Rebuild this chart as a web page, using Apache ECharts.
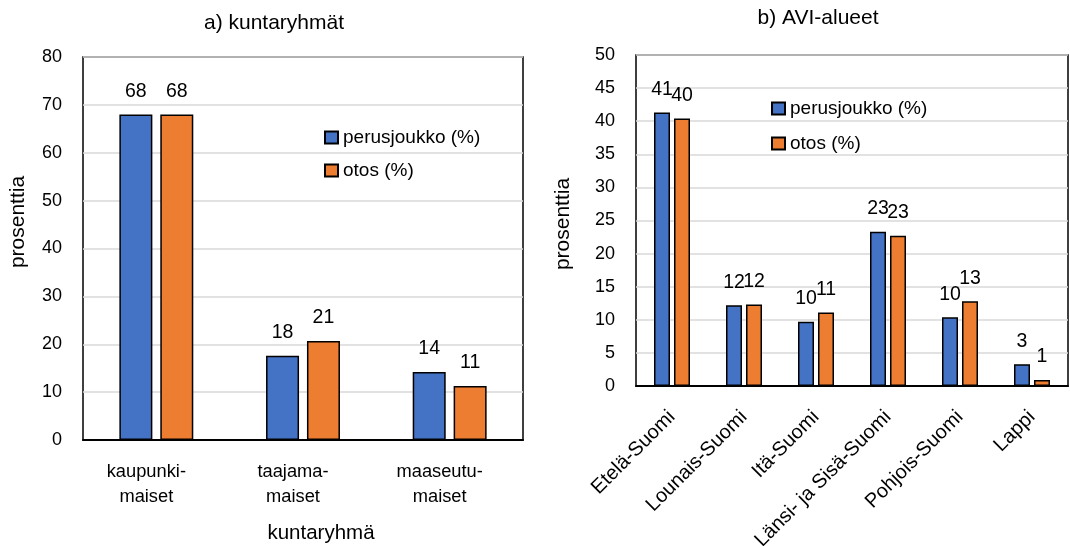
<!DOCTYPE html>
<html>
<head>
<meta charset="utf-8">
<script src="https://cdn.jsdelivr.net/npm/echarts@6/dist/echarts.min.js"></script>
<style>
  html, body { margin: 0; padding: 0; background: #fff; }
  #chart { width: 1070px; height: 546px; }
</style>
</head>
<body>
<div id="chart"></div>
<script>
// a) municipality groups
const catsA = ['kaupunki-\nmaiset', 'taajama-\nmaiset', 'maaseutu-\nmaiset'];
const perusA = [68.0, 17.6, 14.2];
const otosA = [68.0, 20.7, 11.3];

// b) AVI regions
const catsB = ['Etelä-Suomi', 'Lounais-Suomi', 'Itä-Suomi', 'Länsi- ja Sisä-Suomi', 'Pohjois-Suomi', 'Lappi'];
const perusB = [41.3, 12.2, 9.7, 23.3, 10.4, 3.3];
const otosB = [40.4, 12.3, 11.1, 22.7, 12.8, 0.9];

const seriesNames = ['perusjoukko (%)', 'otos (%)'];
const blue = '#4472C4';
const orange = '#ED7D31';
const FONT = "'Liberation Sans', Arial, sans-serif";

const txt = { fontFamily: FONT, color: '#000' };

function barSeries(name, data, color, axisIdx, barWidth, barGap) {
  return {
    type: 'bar',
    name: name,
    data: data,
    xAxisIndex: axisIdx,
    yAxisIndex: axisIdx,
    barWidth: barWidth,
    barGap: barGap,
    itemStyle: { color: color, borderColor: '#000', borderWidth: 1.5 },
    label: {
      show: true,
      position: 'top',
      distance: 13,
      fontFamily: FONT,
      fontSize: 19.5,
      color: '#000',
      formatter: p => Math.round(p.value)
    }
  };
}

const chart = echarts.init(document.getElementById('chart'));
chart.setOption({
  animation: false,
  textStyle: { fontFamily: FONT },
  title: [
    { text: 'a) kuntaryhmät', left: 269, top: 8, textAlign: 'center',
      textStyle: Object.assign({ fontSize: 21, fontWeight: 'normal' }, txt) },
    { text: 'b) AVI-alueet', left: 813, top: 3, textAlign: 'center',
      textStyle: Object.assign({ fontSize: 21, fontWeight: 'normal' }, txt) }
  ],
  legend: [
    { data: seriesNames, orient: 'vertical', left: 319, top: 123,
      itemWidth: 13, itemHeight: 12, itemGap: 14, itemTextGap: 4, icon: 'rect',
      textStyle: Object.assign({ fontSize: 19 }, txt) },
    { data: seriesNames, orient: 'vertical', left: 766, top: 94,
      itemWidth: 13, itemHeight: 12, itemGap: 16, itemTextGap: 4, icon: 'rect',
      textStyle: Object.assign({ fontSize: 19 }, txt) }
  ],
  grid: [
    { left: 83, top: 57, width: 440, height: 383, show: true,
      borderColor: '#000', borderWidth: 1.5, backgroundColor: 'transparent',
      outerBoundsMode: 'none', containLabel: false },
    { left: 636, top: 55, width: 432, height: 331, show: true,
      borderColor: '#000', borderWidth: 1.5, backgroundColor: 'transparent',
      outerBoundsMode: 'none', containLabel: false }
  ],
  xAxis: [
    { type: 'category', gridIndex: 0, data: catsA,
      axisLine: { lineStyle: { color: '#000', width: 2 } },
      axisTick: { show: false },
      axisLabel: Object.assign({ fontSize: 18.3, lineHeight: 25, margin: 19,
        interval: 0, padding: [0, 20, 0, 0] }, txt),
      name: 'kuntaryhmä', nameLocation: 'middle', nameGap: 83,
      nameTextStyle: Object.assign({ fontSize: 20.5, padding: [0, 0, 0, 36] }, txt) },
    { type: 'category', gridIndex: 1, data: catsB,
      axisLine: { lineStyle: { color: '#000', width: 2 } },
      axisTick: { show: false },
      axisLabel: Object.assign({ fontSize: 20, rotate: 45, margin: 28, interval: 0 }, txt),
      name: 'AVI-alue', nameLocation: 'middle', nameGap: 136,
      nameTextStyle: Object.assign({ fontSize: 21 }, txt) }
  ],
  yAxis: [
    { type: 'value', gridIndex: 0, min: 0, max: 80, interval: 10,
      axisLine: { show: false }, axisTick: { show: false },
      splitLine: { lineStyle: { color: '#d9d9d9', width: 1.5 } },
      axisLabel: Object.assign({ fontSize: 18, margin: 21 }, txt),
      name: 'prosenttia', nameLocation: 'middle', nameGap: 54,
      nameTextStyle: Object.assign({ fontSize: 21, padding: [0, 0, 0, 53] }, txt) },
    { type: 'value', gridIndex: 1, min: 0, max: 50, interval: 5,
      axisLine: { show: false }, axisTick: { show: false },
      splitLine: { lineStyle: { color: '#d9d9d9', width: 1.5 } },
      axisLabel: Object.assign({ fontSize: 18, margin: 21 }, txt),
      name: 'prosenttia', nameLocation: 'middle', nameGap: 62,
      nameTextStyle: Object.assign({ fontSize: 21, padding: [0, 7, 0, 0] }, txt) }
  ],
  series: [
    barSeries(seriesNames[0], perusA, blue, 0, 33, '24%'),
    barSeries(seriesNames[1], otosA, orange, 0, 33, '24%'),
    barSeries(seriesNames[0], perusB, blue, 1, 16, '25%'),
    barSeries(seriesNames[1], otosB, orange, 1, 16, '25%')
  ]
});
</script>
</body>
</html>
